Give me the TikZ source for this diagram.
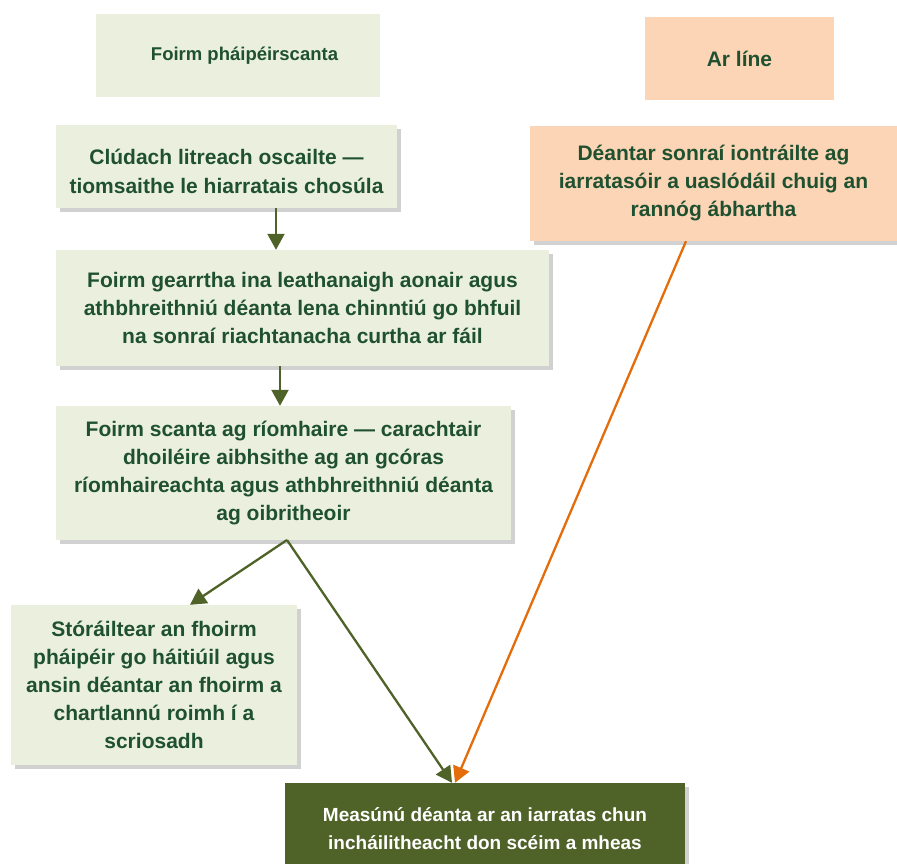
\documentclass[tikz,border=0pt]{standalone}
\usepackage{fontspec}
\setmainfont{Liberation Sans}
\usetikzlibrary{arrows.meta,shadows}
\definecolor{lgreen}{HTML}{EBF0DE}
\definecolor{peach}{HTML}{FBD5B5}
\definecolor{olive}{HTML}{4F6228}
\definecolor{tgreen}{HTML}{1F5130}
\definecolor{orng}{HTML}{E46C0A}
\tikzset{
  box/.style={draw=none, align=center, font=\bfseries\fontsize{21}{28}\selectfont, text=tgreen, inner sep=0pt},
  txt/.style={align=center, font=\bfseries\fontsize{21}{28}\selectfont, text=tgreen, inner sep=0pt},
  shad/.style={drop shadow={shadow xshift=4pt, shadow yshift=-4pt, opacity=0.3, fill=black!60}},
  garr/.style={draw=olive, line width=2.3pt, -{Triangle[length=16pt,width=17pt]}},
  oarr/.style={draw=orng, line width=2.3pt, -{Triangle[length=16pt,width=17pt]}}
}
\begin{document}
\begin{tikzpicture}[x=1pt,y=-1pt]
\useasboundingbox (0,0) rectangle (897,863);
\begin{scope}
\clip (0,0) rectangle (897,863);
\node[box, fill=lgreen, minimum width=284pt, minimum height=83pt] (h1) at (238,55.5) {};
\node[txt, font=\bfseries\fontsize{18.5}{24}\selectfont] (h1t) at (244.5,56) {Foirm pháipéirscanta};
\node[box, fill=peach, minimum width=189pt, minimum height=83pt] (h2) at (739.5,58.5) {Ar líne};
\node[box, fill=lgreen, shad, minimum width=341pt, minimum height=83pt] (b1) at (226.5,166.5) {};
\node[txt, font=\bfseries\fontsize{21}{29}\selectfont] (b1t) at (226.5,171) {Clúdach litreach oscailte —\\tiomsaithe le hiarratais chosúla};
\node[box, fill=lgreen, shad, minimum width=493pt, minimum height=116pt] (b2) at (302.5,308) {Foirm gearrtha ina leathanaigh aonair agus\\athbhreithniú déanta lena chinntiú go bhfuil\\na sonraí riachtanacha curtha ar fáil};
\node[box, fill=lgreen, shad, minimum width=455pt, minimum height=134pt] (b3) at (283.5,473) {Foirm scanta ag ríomhaire — carachtair\\dhoiléire aibhsithe ag an gcóras\\ríomhaireachta agus athbhreithniú déanta\\ag oibritheoir};
\node[box, fill=lgreen, shad, minimum width=286pt, minimum height=160pt] (b4) at (154,685) {Stóráiltear an fhoirm\\pháipéir go háitiúil agus\\ansin déantar an fhoirm a\\chartlannú roimh í a\\scriosadh};
\node[box, fill=peach, shad, minimum width=367pt, minimum height=115pt] (o1) at (713.5,183.5) {Déantar sonraí iontráilte ag\\iarratasóir a uaslódáil chuig an\\rannóg ábhartha};
\node[box, fill=olive, shad, text=white, minimum width=400pt, minimum height=92pt, font=\bfseries\fontsize{19}{28}\selectfont] (f) at (485,829) {Measúnú déanta ar an iarratas chun\\incháilitheacht don scéim a mheas};
\coordinate (c1) at (276,0);
\coordinate (c2) at (280,0);
\coordinate (c3) at (190,0);
\coordinate (c4) at (452,0);
\coordinate (c5) at (686,0);
\coordinate (c6) at (455,0);
\coordinate (s) at (287,540);
\draw[garr] (c1 |- b1.south) -- (c1 |- b2.north);
\draw[garr] (c2 |- b2.south) -- (c2 |- b3.north);
\draw[garr] (s) -- (c3 |- b4.north);
\draw[garr] (s) -- (c4 |- f.north);
\draw[oarr] (c5 |- o1.south) -- (c6 |- f.north);
\end{scope}
\end{tikzpicture}
\end{document}
